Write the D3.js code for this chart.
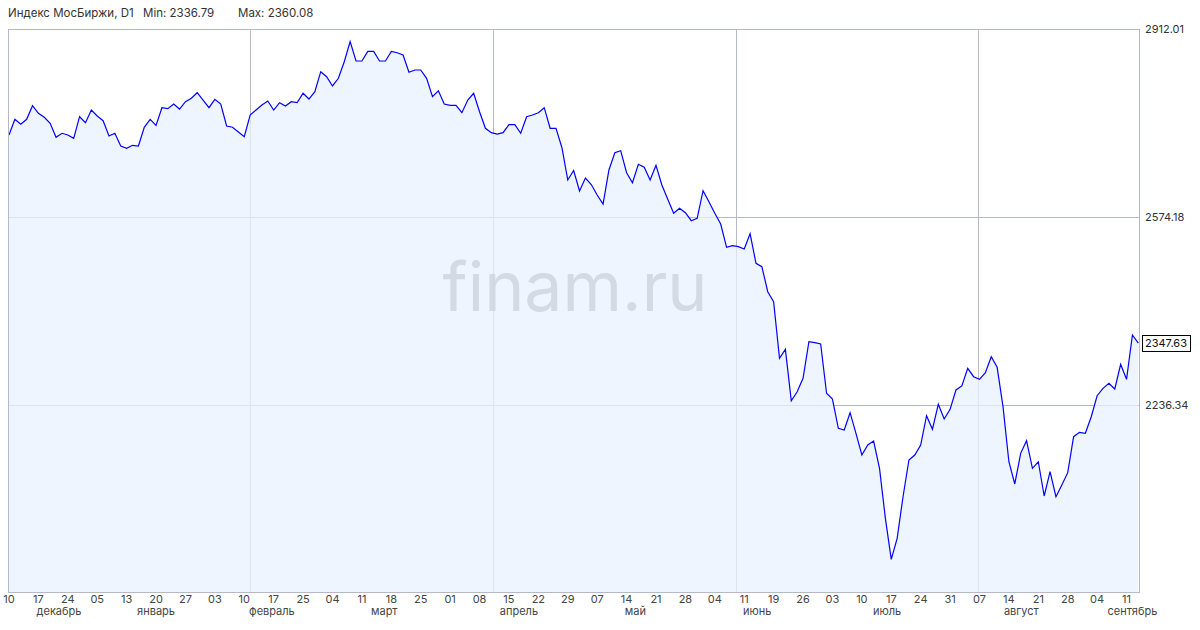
<!DOCTYPE html>
<html><head><meta charset="utf-8">
<script src="https://cdn.jsdelivr.net/npm/d3@7"></script>
<style>
html,body{margin:0;padding:0;background:#fff;}
svg{display:block;font-family:Inter,"Noto Sans",sans-serif;}
</style></head>
<body>
<svg id="chart" width="1200" height="630"></svg>
<script>
const title = "Индекс МосБиржи, D1";
const minText = "Min: 2336.79";
const maxText = "Max: 2360.08";

const closes = [
2721.5,2749.7,2740.7,2749.7,2774.2,2760.5,2753.3,2742.5,2717.4,2724.6,
2721.5,2715.6,2754.4,2743.6,2766.4,2755.7,2747.2,2719.7,2724.6,2701.8,
2697.6,2703.0,2701.8,2735.4,2749.7,2738.9,2770.6,2768.8,2777.2,2768.2,
2781.4,2787.5,2797.5,2784.4,2770.6,2785.7,2777.2,2737.7,2735.4,2726.9,
2718.5,2757.5,2766.4,2775.4,2782.6,2766.4,2779.6,2773.6,2781.4,2779.6,
2796.5,2786.2,2799.3,2835.3,2826.3,2809.6,2823.4,2853.2,2889.2,2854.5,
2854.5,2871.9,2871.9,2854.5,2854.5,2871.9,2869.4,2865.3,2834.2,2838.3,
2838.3,2823.4,2790.3,2801.1,2777.2,2774.9,2774.9,2761.6,2784.4,2796.5,
2763.4,2733.6,2725.7,2723.3,2725.7,2740.0,2740.0,2724.6,2754.4,2757.5,
2761.6,2770.6,2733.6,2733.6,2699.1,2640.7,2657.7,2620.9,2644.2,2632.6,
2613.7,2597.5,2658.6,2689.7,2693.3,2653.8,2635.8,2668.9,2663.5,2640.7,
2667.1,2631.7,2606.0,2580.8,2589.8,2581.9,2567.5,2571.8,2621.4,2601.7,
2580.8,2561.6,2519.7,2522.6,2520.8,2516.7,2544.2,2491.0,2484.9,2439.9,
2422.0,2320.2,2336.4,2244.0,2260.2,2284.3,2350.1,2348.3,2345.9,2257.4,
2247.1,2194.5,2191.4,2222.5,2185.5,2146.5,2164.4,2171.6,2122.6,2032.7,
1959.0,1996.8,2071.5,2137.5,2146.5,2164.4,2217.1,2192.8,2237.8,2211.2,
2228.6,2263.3,2270.5,2302.3,2287.2,2282.5,2294.4,2323.1,2304.1,2233.3,
2134.4,2094.4,2149.5,2172.2,2122.6,2134.4,2072.8,2116.5,2071.5,2092.6,
2114.7,2179.4,2187.3,2185.5,2215.3,2253.0,2266.3,2275.3,2265.1,2309.5,
2282.5,2362.1,2347.63
];

const dayLabels = ["10","17","24","05","13","20","27","03","10","17","25","04","11","18","25","01","08","15","22","29","07","14","21","28","04","11","19","26","03","10","17","24","31","07","14","21","28","04","11"];
const dayIdx = dayLabels.map((d,i)=>i*5);

const monthLabels = ["декабрь","январь","февраль","март","апрель","май","июнь","июль","август","сентябрь"];
const monthIdx = [8.5,25,44.7,63.8,86.7,106.5,127.2,149.3,172.1,191];

const priceTicks = [2912.01, 2574.18, 2236.34];
const vGridIdx = [41, 82.3, 123.6, 164.8];
const yDomain = [1900.3, 2912.01];

const svg = d3.select("#chart");
const L = 8, R = 1140, T = 29, B = 592;

const x = d3.scaleLinear().domain([0, closes.length-1]).range([9, 1138.3]);
const y = d3.scaleLinear().domain(yDomain).range([B, T]);

const gridCol = "#b5b9c6";

// grid
svg.append("g").selectAll("line.h").data(priceTicks).join("line")
  .attr("x1", L).attr("x2", R)
  .attr("y1", d=>Math.round(y(d))+0.5).attr("y2", d=>Math.round(y(d))+0.5)
  .attr("stroke", gridCol).attr("stroke-width",1);
svg.append("g").selectAll("line.v").data(vGridIdx).join("line")
  .attr("x1", d=>Math.round(x(d))+0.5).attr("x2", d=>Math.round(x(d))+0.5)
  .attr("y1", T).attr("y2", B)
  .attr("stroke", gridCol).attr("stroke-width",1);

// area
const area = d3.area().x((d,i)=>x(i)).y0(B).y1(d=>y(d));
svg.append("path").datum(closes).attr("d", area)
  .attr("fill", "#e8f2fd").attr("fill-opacity", 0.75);

// watermark
svg.append("text").attr("x", 575).attr("y", 311)
  .attr("text-anchor","middle")
  .style("font-size","68px").style("fill","#cfd5de").style("fill-opacity",0.85)
  .text("finam.ru");

// line
const line = d3.line().x((d,i)=>x(i)).y(d=>y(d));
svg.append("path").datum(closes).attr("d", line)
  .attr("fill","none").attr("stroke","#0000ff").attr("stroke-width",1.2)
  .attr("stroke-linejoin","miter");

// frame
svg.append("rect").attr("x", L+0.5).attr("y", T+0.5)
  .attr("width", R-L-1).attr("height", B-T)
  .attr("fill","none").attr("stroke", gridCol).attr("stroke-width",1);

// right axis labels
svg.append("g").selectAll("text").data(priceTicks).join("text")
  .attr("x", R+5).attr("y", d=>y(d))
  .attr("dominant-baseline","central")
  .style("font-size","11px").style("fill","#333")
  .text(d=>d.toFixed(2));

// last value box
const lastV = closes[closes.length-1];
const lg = svg.append("g");
const lt = lg.append("text").attr("x", R+5).attr("y", y(lastV))
  .attr("dominant-baseline","central")
  .style("font-size","11px").style("fill","#111")
  .text(lastV.toFixed(2));
const bb = lt.node().getBBox();
lg.insert("rect","text").attr("x", Math.round(bb.x)-2.5).attr("y", Math.round(y(lastV))-7.5)
  .attr("width", Math.round(bb.width)+6).attr("height", 16)
  .attr("fill","#fff").attr("stroke","#000").attr("stroke-width",1);

// bottom axis labels
svg.append("g").selectAll("text").data(dayLabels).join("text")
  .attr("x", (d,i)=>x(dayIdx[i])).attr("y", 599)
  .attr("text-anchor","middle").attr("dominant-baseline","central")
  .style("font-size","11px").style("fill","#444")
  .text(d=>d);
svg.append("g").selectAll("text").data(monthLabels).join("text")
  .attr("x", (d,i)=>x(monthIdx[i])).attr("y", 611)
  .attr("text-anchor","middle").attr("dominant-baseline","central")
  .style("font-size","11px").style("fill","#444")
  .text(d=>d);

// header
const hdr = svg.append("g").style("font-size","11.5px").style("fill","#333");
hdr.append("text").attr("x", 8).attr("y", 13).attr("dominant-baseline","central").text(title);
hdr.append("text").attr("x", 143).attr("y", 13).attr("dominant-baseline","central").text(minText);
hdr.append("text").attr("x", 238).attr("y", 13).attr("dominant-baseline","central").text(maxText);
</script>
</body></html>
